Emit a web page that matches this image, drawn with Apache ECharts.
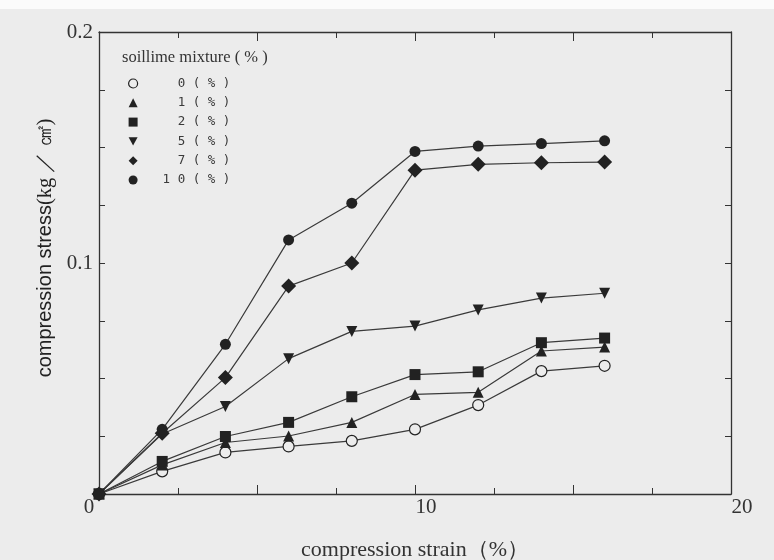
<!DOCTYPE html>
<html>
<head>
<meta charset="utf-8">
<script src="https://cdn.jsdelivr.net/npm/echarts@6/dist/echarts.min.js"></script>
<style>
html,body{margin:0;padding:0;background:#ececec;}
#c{width:774px;height:560px;}
</style>
</head>
<body>
<div id="c"></div>
<script>
const strain = [0, 2, 4, 6, 8, 10, 12, 14, 16];
const mix0  = [0, 0.0098, 0.0180, 0.0206, 0.0230, 0.0280, 0.0385, 0.0532, 0.0555];
const mix1  = [0, 0.0126, 0.0223, 0.0251, 0.0310, 0.0431, 0.0440, 0.0619, 0.0636];
const mix2  = [0, 0.0141, 0.0249, 0.0310, 0.0421, 0.0517, 0.0529, 0.0655, 0.0675];
const mix5  = [0, 0.0260, 0.0379, 0.0586, 0.0704, 0.0727, 0.0797, 0.0848, 0.0869];
const mix7  = [0, 0.0263, 0.0504, 0.0900, 0.1000, 0.1402, 0.1427, 0.1434, 0.1437];
const mix10 = [0, 0.0280, 0.0648, 0.1100, 0.1259, 0.1483, 0.1506, 0.1517, 0.1529];
const seriesNames = ['0 ( % )', '1 ( % )', '2 ( % )', '5 ( % )', '7 ( % )', '1 0 ( % )'];
const seriesData = [mix0, mix1, mix2, mix5, mix7, mix10];
const symbols = ['circle', 'triangle', 'rect', 'path://M0,0 L10,0 L5,9 Z', 'diamond', 'circle'];
const symbolSizes = [11, 11, 11, 11, 15, 11];
const xTickLabels = ['0', '10', '20'];
const yTickLabels = ['0.1', '0.2'];

const BG = '#ececec';
const INK = '#222';
const serif = '"Liberation Serif", "DejaVu Serif", serif';
const sans = '"Liberation Sans", Arial, sans-serif';

const series = seriesData.map((vals, i) => ({
  name: seriesNames[i],
  type: 'line',
  data: strain.map((x, k) => [x, vals[k]]),
  symbol: symbols[i],
  symbolSize: symbolSizes[i],
  showAllSymbol: true,
  lineStyle: { color: '#3a3a3a', width: 1.2 },
  itemStyle: i === 0
    ? { color: BG, borderColor: INK, borderWidth: 1.2 }
    : { color: INK, borderWidth: 0 },
  z: 3
}));

const edgeAxis = {
  axisLine: { onZero: false, lineStyle: { color: '#333', width: 1.3 } },
  splitLine: { show: false },
  axisLabel: { show: false }
};

const chart = echarts.init(document.getElementById('c'));
chart.setOption({
  backgroundColor: BG,
  animation: false,
  grid: { left: 99, right: 43, top: 32, bottom: 66, containLabel: false, outerBoundsMode: 'none' },
  legend: {
    orient: 'vertical',
    left: 123, top: 72,
    itemGap: 6.3,
    itemWidth: 9, itemHeight: 9,
    formatter: n => ' '.repeat(Math.max(0, 9 - n.length)) + n,
    textStyle: { fontFamily: '"DejaVu Sans Mono", monospace', fontSize: 12.5, color: '#3a3a3a', padding: [0, 0, 0, 20] },
    data: seriesNames.map((n, i) => ({
      name: n,
      icon: symbols[i],
      itemStyle: i === 0 ? { color: BG, borderColor: INK, borderWidth: 1.2 } : { color: INK }
    })),
    selectedMode: false
  },
  graphic: [{
    type: 'rect', left: 0, top: 0, shape: { width: 774, height: 9 },
    style: { fill: '#fbfbfb' }, silent: true
  }, {
    type: 'text', left: 122, top: 49,
    style: { text: 'soillime mixture ( % )', font: '16.5px ' + serif, fill: '#333' }
  }],
  xAxis: [{
    type: 'value', min: 0, max: 20, interval: 5,
    name: 'compression strain（%）', nameLocation: 'middle', nameGap: 45,
    nameTextStyle: { fontFamily: serif, fontSize: 22, color: '#333' },
    axisLine: { onZero: false, lineStyle: { color: '#333', width: 1.3 } },
    axisTick: { inside: true, length: 9, lineStyle: { color: '#333' } },
    minorTick: { show: true, splitNumber: 2, length: 6, lineStyle: { color: '#333' } },
    splitLine: { show: false },
    axisLabel: {
      margin: 3,
      formatter: v => {
        const s = String(v);
        if (!xTickLabels.includes(s)) return '';
        return v === 0 ? '{l|' + s + '}' : '{r|' + s + '}';
      },
      rich: {
        l: { fontFamily: serif, fontSize: 21, color: '#333', padding: [0, 20, 0, 0] },
        r: { fontFamily: serif, fontSize: 21, color: '#333', padding: [0, 0, 0, 22] }
      }
    }
  }, Object.assign({
    type: 'value', min: 0, max: 20, interval: 5, position: 'top',
    axisTick: { inside: true, length: 9, lineStyle: { color: '#333' } },
    minorTick: { show: true, splitNumber: 2, length: 6, lineStyle: { color: '#333' } }
  }, edgeAxis)],
  yAxis: [{
    type: 'value', min: 0, max: 0.2, interval: 0.025,
    name: '{a|compression stress}{b|(kg ／ ㎠)}', nameLocation: 'middle', nameGap: 38,
    nameTextStyle: {
      padding: [0, 0, 0, 30],
      rich: {
        a: { fontFamily: sans, fontSize: 20, color: '#222' },
        b: { fontFamily: serif, fontSize: 20.5, color: '#222' }
      }
    },
    axisLine: { onZero: false, lineStyle: { color: '#333', width: 1.3 } },
    axisTick: { inside: true, length: 6, lineStyle: { color: '#333' } },
    splitLine: { show: false },
    axisLabel: {
      fontFamily: serif, fontSize: 21, color: '#333', margin: 6,
      formatter: v => {
        const s = (Math.round(v * 1000) / 1000).toString();
        return yTickLabels.includes(s) ? s : '';
      }
    }
  }, Object.assign({
    type: 'value', min: 0, max: 0.2, interval: 0.025, position: 'right',
    axisTick: { inside: true, length: 6, lineStyle: { color: '#333' } }
  }, edgeAxis)],
  series: series
});
</script>
</body>
</html>
